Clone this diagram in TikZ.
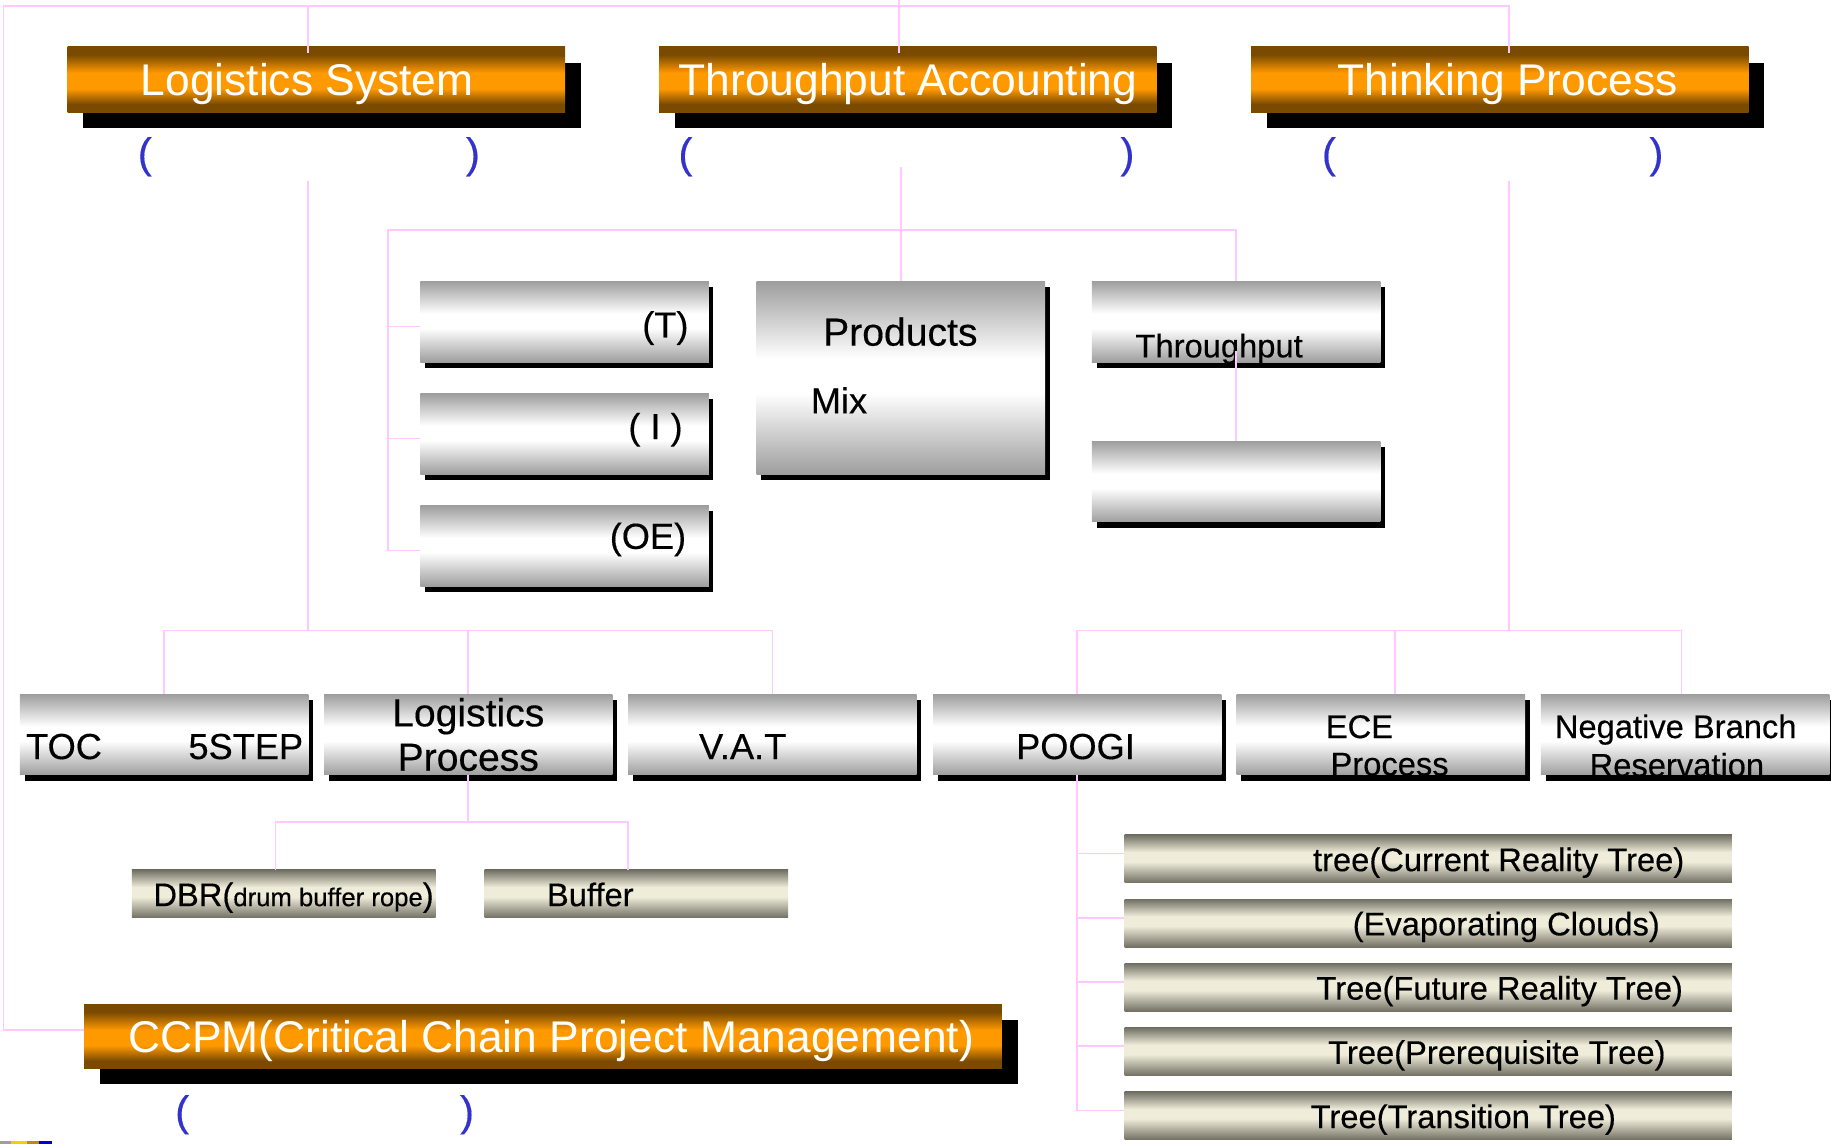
\documentclass[tikz,border=0pt]{standalone}
\usepackage{fontspec}
\setmainfont{Liberation Sans}[FakeBold=0.35]
\newfontfamily\titlefont{Liberation Sans}
\usetikzlibrary{shadows}

\definecolor{obrown}{HTML}{7A4A00}
\definecolor{oorange}{HTML}{FF9900}
\definecolor{sgray}{HTML}{9E9E9E}
\definecolor{kdark}{HTML}{727063}
\definecolor{kcream}{HTML}{EFECDA}
\definecolor{linkpink}{HTML}{FFC8FF}
\definecolor{parenblue}{HTML}{3333CC}
\definecolor{bargray}{HTML}{A39E94}
\definecolor{baryellow}{HTML}{FFCC00}
\definecolor{barorange}{HTML}{C8841A}
\definecolor{barblue}{HTML}{0000CC}

\pgfdeclareverticalshading{orangebar}{100bp}{color(0bp)=(obrown); color(25bp)=(obrown); color(31bp)=(obrown); color(43bp)=(oorange); color(55bp)=(oorange); color(69bp)=(obrown); color(75bp)=(obrown); color(100bp)=(obrown)}
\pgfdeclareverticalshading{silverbar}{100bp}{color(0bp)=(sgray); color(25bp)=(sgray); color(46bp)=(white); color(55bp)=(white); color(75bp)=(sgray); color(100bp)=(sgray)}
\pgfdeclareverticalshading{khakibar}{100bp}{color(0bp)=(kdark); color(25bp)=(kdark); color(47bp)=(kcream); color(57bp)=(kcream); color(75bp)=(kdark); color(100bp)=(kdark)}

\begin{document}
\begin{tikzpicture}[x=0.5pt, y=-0.5pt,
  obox/.style={shade, shading=orangebar, minimum width=213pt, minimum height=28pt, inner sep=0pt,
    drop shadow={shadow xshift=6.75pt, shadow yshift=-6.85pt, fill=black, opacity=1},
    text=white, font=\titlefont\fontsize{19pt}{19pt}\selectfont, text height=13.6pt, text depth=0pt},
  sbox/.style={shade, shading=silverbar, minimum width=123.5pt, minimum height=34.5pt, inner sep=0pt,
    drop shadow={shadow xshift=2pt, shadow yshift=-2.5pt, fill=black, opacity=1}},
  kbox/.style={shade, shading=khakibar, minimum width=130pt, minimum height=20.5pt, inner sep=0pt},
  paren/.style={text=parenblue, font=\fontsize{18pt}{18pt}\selectfont, inner sep=0pt, anchor=base},
  ltxt/.style={font=\fontsize{16.75pt}{16.75pt}\selectfont, inner sep=0pt},
  mtxt/.style={font=\fontsize{15.5pt}{15.5pt}\selectfont, inner sep=0pt},
  stxt/.style={font=\fontsize{14pt}{14pt}\selectfont, inner sep=0pt},
  link/.style={draw=linkpink, line width=0.7pt}]
  \useasboundingbox (0,0) rectangle (1568,980);

  \node[obox] (ls) at (271,68) {Logistics System\hspace*{8pt}};
  \node[obox] (ta) at (777.5,68) {Throughput Accounting};
  \node[obox] (tp) at (1284.5,68) {\hspace*{6.5pt}Thinking Process};
  \node[obox, minimum width=393pt, minimum height=27.5pt] (ccpm) at (465,887.5) {\hspace*{7pt}CCPM(Critical Chain Project Management)};

  \node[paren] (lsl) at (124,143.5) {(};
  \node[paren] (lsr) at (405,143.5) {)};
  \node[paren] (tal) at (587,143.5) {(};
  \node[paren] (tar) at (965.5,143.5) {)};
  \node[paren] (tpl) at (1138,143.5) {(};
  \node[paren] (tpr) at (1418.5,143.5) {)};
  \node[paren] (ccpml) at (156,964) {(};
  \node[paren] (ccpmr) at (400,964) {)};

  \node[sbox] (t) at (483.5,275.5) {};
  \node[sbox] (i) at (483.5,371.5) {};
  \node[sbox] (oe) at (483.5,467.5) {};
  \node[sbox, minimum height=82.5pt] (pm) at (771.5,323.5) {};
  \node[sbox] (th) at (1058.5,275.5) {};
  \node[sbox] (em) at (1058.5,412.5) {};

  \node[sbox] (toc) at (140.5,629) {};
  \node[sbox] (lp) at (401,629) {};
  \node[sbox] (vat) at (661.5,629) {};
  \node[sbox] (poogi) at (922.5,629) {};
  \node[sbox] (ece) at (1182.5,629) {};
  \node[sbox] (nbr) at (1443,629) {};

  \node[kbox] (dbr) at (243,765.5) {};
  \node[kbox] (buf) at (545,765.5) {};
  \foreach \n/\y in {1/735.5, 2/790.5, 3/845.5, 4/900.5, 5/955.5}
    \node[kbox, minimum width=260pt] (tr\n) at (1223,\y) {};

  \node[mtxt, anchor=base east] (ttxt) at (590,289) {(T)};
  \node[mtxt, anchor=base east] (itxt) at (585,376) {( I )};
  \node[mtxt, anchor=base east] (oetxt) at (588,470) {(OE)};
  \node[ltxt, anchor=base] (pm1) at (771,296) {Products};
  \node[mtxt, anchor=base west] (pm2) at (694,354) {Mix};
  \node[stxt, anchor=base west] (thtxt) at (972,306) {Throughput};

  \node[mtxt, anchor=base west] (tocl) at (22,650) {TOC};
  \node[mtxt, anchor=base east] (tocr) at (260,650) {5STEP};
  \node[ltxt, anchor=base] (lp1) at (401,622) {Logistics};
  \node[ltxt, anchor=base] (lp2) at (401,660) {Process};
  \node[mtxt, anchor=base] (vattxt) at (636,650) {V.A.T};
  \node[mtxt, anchor=base] (poogitxt) at (921,650) {POOGI};
  \node[stxt, anchor=base west] (ece1) at (1135,632) {ECE};
  \node[stxt, anchor=base west] (ece2) at (1139,664) {Process};
  \node[stxt, anchor=base] (nbr1) at (1435,632) {Negative Branch};
  \node[stxt, anchor=base] (nbr2) at (1436,665) {Reservation};

  \node[stxt, anchor=base west] (dbrtxt) at (131,776) {DBR({\fontsize{11pt}{11pt}\selectfont drum buffer rope})};
  \node[stxt, anchor=base west] (buftxt) at (468,776) {Buffer};
  \foreach \n/\x/\y/\t in {1/1124/746/tree(Current Reality Tree), 2/1158/801/(Evaporating Clouds),
      3/1127/856/Tree(Future Reality Tree), 4/1137/911/Tree(Prerequisite Tree), 5/1122/966/Tree(Transition Tree)}
    \node[stxt, anchor=base west] (trtxt\n) at (\x,\y) {\t};

  \coordinate (c0) at (3,5);
  \coordinate (lsbus) at (264,540);
  \coordinate (lpbus) at (401,704);
  \coordinate (tabus) at (332,197);
  \coordinate (tpbus) at (1292,540);

  \draw[link] ([yshift=2.75pt]ccpm.west) -| (c0) -| ([xshift=3.75pt,yshift=-3pt]tp.north);
  \draw[link] ([xshift=-3.5pt,yshift=-3pt]ls.north) |- (c0);
  \draw[link] ([xshift=-3.75pt,yshift=-3pt]ta.north) -- ++(0,-46);

  \draw[link] (lsbus) -- ++(0,-385);
  \draw[link] (toc.north) |- (lsbus) -| (vat.north);
  \draw[link] (lp.north) -- (lp.north |- lsbus);
  \draw[link] (lp.south) -- (lpbus);
  \draw[link] ([xshift=-3.5pt]dbr.north) |- (lpbus) -| ([xshift=-3.5pt]buf.north);

  \draw[link] (pm.north) -- ++(0,-98);
  \draw[link] ([yshift=-2pt]oe.west) -| (tabus) -| (th.north);
  \draw[link] ([yshift=-2pt]t.west) -- ([yshift=-2pt]t.west -| tabus);
  \draw[link] ([yshift=-2pt]i.west) -- ([yshift=-2pt]i.west -| tabus);
  \draw[link] ([yshift=5pt]th.south) -- (em.north);

  \draw[link] (tpbus) -- ++(0,-385);
  \draw[link] (poogi.north) |- (tpbus) -| ([xshift=-1.5pt]nbr.north);
  \draw[link] ([xshift=6pt]ece.north) -- ([xshift=6pt]ece.north |- tpbus);
  \draw[link] (poogi.south) |- ([yshift=2.25pt]tr5.west);
  \foreach \n in {1,...,4}
    \draw[link] ([yshift=2.25pt]tr\n.west) -- ([yshift=2.25pt]tr\n.west -| poogi.south);

  \fill[bargray] (0,977) rectangle (9.4,980);
  \fill[baryellow] (9.4,977) rectangle (23,980);
  \fill[barorange] (23,977) rectangle (33.4,980);
  \fill[barblue] (33.4,977) rectangle (44.5,980);
\end{tikzpicture}
\end{document}
